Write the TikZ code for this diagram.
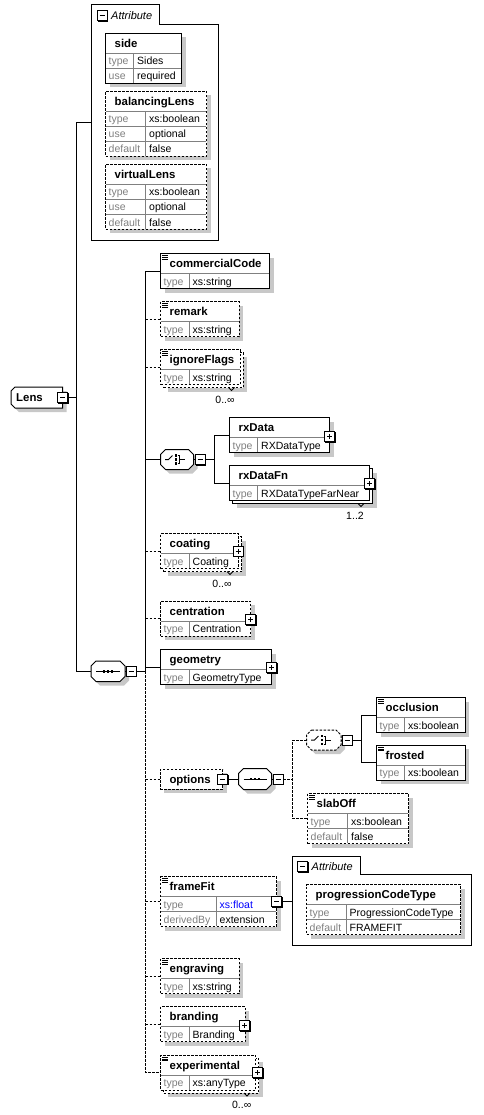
\documentclass[tikz,border=0pt]{standalone}
\usepackage{fontspec}
\setmainfont{Liberation Sans}
\usetikzlibrary{shadows}
\definecolor{shadowc}{HTML}{C8C8C8}
\definecolor{lblc}{HTML}{808080}
\definecolor{divc}{HTML}{808080}
\tikzset{
 shd/.style={general shadow={shadow xshift=4pt,shadow yshift=-4pt,fill=shadowc}},
 boxn/.style={draw=black,fill=white,line width=1pt,rectangle,anchor=north west,inner sep=0pt,outer sep=0pt},
 opt/.style={dash pattern=on 2.5pt off 1.5pt},
 req/.style={solid},
 ttl/.style={anchor=base west,font=\fontsize{11.4}{13}\selectfont\bfseries,inner sep=0pt},
 lbl/.style={anchor=base west,font=\fontsize{10.5}{12}\selectfont,text=lblc,inner sep=0pt},
 val/.style={anchor=base west,font=\fontsize{10.5}{12}\selectfont,inner sep=0pt},
 itl/.style={anchor=base west,font=\fontsize{11}{13}\selectfont\itshape,inner sep=0pt},
 conn/.style={line width=1pt},
 oconn/.style={line width=1pt,opt},
 div/.style={draw=divc,line width=1pt},
 pmb/.style={draw=black,fill=white,line width=1pt,rectangle,minimum size=10pt,inner sep=0pt,outer sep=0pt,anchor=north west},
 ghost/.style={inner sep=0pt,outer sep=0pt,anchor=north west},
}
\newcommand\ebox[6]{\node[boxn,shd,#6,minimum width={#4-#2},minimum height={#5-#3}] (#1) at (#2,#3) {};}
\newcommand\stbox[6]{%
 \node[boxn,shd,#6,minimum width={#4-#2},minimum height={#5-#3}] (#1-b) at ({#2+3},{#3+3}) {};
 \node[boxn,#6,minimum width={#4-#2},minimum height={#5-#3}] (#1) at (#2,#3) {};}
\newcommand\etitle[4]{\node[ttl] (#1) at ({#2+9},{#3+14}) {#4};}
\newcommand\erow[7]{%
 \draw[div] ({#2+0.5},#4) -- ({#3-0.5},#4) (#5,#4) -- (#5,{#4+14.5});
 \node[lbl] (#1-l) at ({#2+3},{#4+11.5}) {#6};
 \node[val] (#1-v) at ({#5+3.5},{#4+11.5}) {#7};}
\newcommand\docic[2]{\draw[line width=0.6pt] ({#1+1.5},{#2+2}) -- ++(6,0) ({#1+1.5},{#2+3.8}) -- ++(6,0) ({#1+1.5},{#2+5.6}) -- ++(6,0);}
\newcommand\minusb[3]{%
 \node[pmb] (#1) at (#2,#3) {};
 \draw[line width=1.2pt] ({#2+10.6},{#3+0.8}) -- ({#2+10.6},{#3+10.6}) -- ({#2+0.8},{#3+10.6});
 \draw[line width=1pt] ({#2+2.5},{#3+5}) -- ({#2+7.5},{#3+5});}
\newcommand\plusb[3]{\minusb{#1}{#2}{#3}\draw[line width=1pt] ({#2+5},{#3+2.5}) -- ({#2+5},{#3+7.5});}
\newcommand\octa[7]{%
 \fill[shadowc] ({#2+#7+4},{#3+4}) -- ({#4-#7+4},{#3+4}) -- ({#4+4},{#3+#7+4}) -- ({#4+4},{#5-#7+4}) -- ({#4-#7+4},{#5+4}) -- ({#2+#7+4},{#5+4}) -- ({#2+4},{#5-#7+4}) -- ({#2+4},{#3+#7+4}) -- cycle;
 \draw[line width=1pt,fill=white,#6] ({#2+#7},#3) -- ({#4-#7},#3) -- (#4,{#3+#7}) -- (#4,{#5-#7}) -- ({#4-#7},#5) -- ({#2+#7},#5) -- (#2,{#5-#7}) -- (#2,{#3+#7}) -- cycle;
 \node[ghost,minimum width={#4-#2},minimum height={#5-#3}] (#1) at (#2,#3) {};}
\newcommand\seqsym[3]{%
 \draw[line width=1pt] ({#1+5},#3) -- ({#2-5},#3);
 \foreach \d in {-4,0,4} \fill ({(#1+#2)/2+\d-1.3},{#3-1.3}) rectangle ++(2.6,2.6);}
\newcommand\chsym[2]{%
 \draw[line width=1pt] ({#1+4.5},#2) -- ({#1+8},#2) -- ({#1+12},{#2-4});
 \foreach \d in {-4,0,4} \fill ({#1+14},{#2+\d-1.2}) rectangle ++(2.4,2.4);
 \draw[line width=1pt] ({#1+17},{#2-4}) -- ({#1+19},{#2-4}) -- ({#1+19},{#2+4}) -- ({#1+17},{#2+4}) ({#1+19},#2) -- ({#1+24},#2);}
\newcommand\multv[5]{% name xv yb xt text
 \draw[line width=0.8pt] ({#2-3},#3) -- (#2,{#3+3}) -- ({#2+3},#3);
 \node[val,anchor=base] (#1) at (#4,{#3+15.5}) {#5};}
\begin{document}
\begin{tikzpicture}[x=1pt,y=-1pt]
\useasboundingbox (0,0) rectangle (483,1115);
\fill[white] (0,0) rectangle (483,1115);

% ---------- Attribute container 1
\draw[line width=1pt,fill=white] (91.5,240) -- (91.5,5) -- (159,5) -- (159,24.5) -- (218.5,24.5) -- (218.5,240) -- cycle;
\node[ghost,minimum width=127,minimum height=235] (attr1) at (91.5,5) {};
\minusb{attr1M}{97}{10.5}
\node[itl] (attr1t) at (111,19.5) {Attribute};

\ebox{side}{105.5}{33.5}{181.5}{83.5}{req}
\etitle{side-t}{105.5}{33.5}{side}
\erow{side1}{105.5}{181.5}{53.5}{133.5}{type}{Sides}
\erow{side2}{105.5}{181.5}{68.5}{133.5}{use}{required}

\ebox{bal}{105.5}{91.5}{206.5}{156.5}{opt}
\etitle{bal-t}{105.5}{91.5}{balancingLens}
\erow{bal1}{105.5}{206.5}{111.5}{145.5}{type}{xs:boolean}
\erow{bal2}{105.5}{206.5}{126.5}{145.5}{use}{optional}
\erow{bal3}{105.5}{206.5}{141.5}{145.5}{default}{false}

\ebox{vir}{105.5}{164.5}{206.5}{229.5}{opt}
\etitle{vir-t}{105.5}{164.5}{virtualLens}
\erow{vir1}{105.5}{206.5}{184.5}{145.5}{type}{xs:boolean}
\erow{vir2}{105.5}{206.5}{199.5}{145.5}{use}{optional}
\erow{vir3}{105.5}{206.5}{214.5}{145.5}{default}{false}

% ---------- Lens
\fill[shadowc] (19,391) -- (66.5,391) -- (66.5,412) -- (19,412) -- (15,408) -- (15,395) -- cycle;
\draw[line width=1pt,fill=white] (15,387) -- (62.5,387) -- (62.5,408) -- (15,408) -- (11,404) -- (11,391) -- cycle;
\node[ghost,minimum width=51.5,minimum height=21] (lens) at (11,387) {};
\node[ttl] (lens-t) at (16,401.5) {Lens};
\minusb{lensM}{57.5}{392.5}

% ---------- sequence 1
\octa{seq1}{91}{661}{125}{681.5}{solid}{5}
\seqsym{91}{125}{671.25}
\minusb{seq1M}{126}{666.25}

% ---------- children of sequence 1
\ebox{cc}{160.5}{253.5}{269.5}{288.5}{req}
\docic{160.5}{253.5}
\etitle{cc-t}{160.5}{253.5}{commercialCode}
\erow{cc1}{160.5}{269.5}{273.5}{189}{type}{xs:string}

\ebox{remark}{160.5}{301.5}{239}{336.5}{opt}
\docic{160.5}{301.5}
\etitle{remark-t}{160.5}{301.5}{remark}
\erow{remark1}{160.5}{239}{321.5}{189}{type}{xs:string}

\stbox{ign}{160.5}{349.5}{240}{384.5}{opt}
\docic{160.5}{349.5}
\etitle{ign-t}{160.5}{349.5}{ignoreFlags}
\erow{ign1}{160.5}{240}{369.5}{189}{type}{xs:string}
\multv{ign-m}{231.5}{387.5}{225}{0..∞}

\octa{ch1}{160.5}{449.5}{193.5}{469.5}{solid}{5}
\chsym{160.5}{459.5}
\minusb{ch1M}{195}{454.5}

\ebox{rxd}{229.5}{417.5}{329.5}{452.5}{req}
\etitle{rxd-t}{229.5}{417.5}{rxData}
\erow{rxd1}{229.5}{329.5}{437.5}{257.5}{type}{RXDataType}
\plusb{rxdP}{324.5}{431.5}

\stbox{rxdf}{229.5}{465.5}{369.5}{500.5}{req}
\etitle{rxdf-t}{229.5}{465.5}{rxDataFn}
\erow{rxdf1}{229.5}{369.5}{485.5}{257.5}{type}{RXDataTypeFarNear}
\plusb{rxdfP}{364.5}{478.5}
\multv{rxdf-m}{361}{503.5}{355}{1..2}

\stbox{coat}{160.5}{533.5}{238.5}{568.5}{opt}
\etitle{coat-t}{160.5}{533.5}{coating}
\erow{coat1}{160.5}{238.5}{553.5}{189}{type}{Coating}
\plusb{coatP}{233}{546}
\multv{coat-m}{230}{571.5}{222}{0..∞}

\ebox{cent}{160.5}{601}{250.5}{636}{opt}
\etitle{cent-t}{160.5}{601}{centration}
\erow{cent1}{160.5}{250.5}{621}{189}{type}{Centration}
\plusb{centP}{245.5}{614.5}

\ebox{geom}{160.5}{649.5}{271.5}{684.5}{req}
\etitle{geom-t}{160.5}{649.5}{geometry}
\erow{geom1}{160.5}{271.5}{669.5}{189}{type}{GeometryType}
\plusb{geomP}{266.5}{662.5}

% ---------- options
\ebox{opts}{160}{769}{222.5}{789}{opt}
\node[ttl] (opts-t) at (169.3,783) {options};
\minusb{optsM}{217.5}{774}

\octa{seq2}{238.5}{768.5}{271.5}{789.5}{solid}{5}
\seqsym{238.5}{271.5}{779}
\minusb{seq2M}{273}{774}

\octa{ch2}{306.5}{730}{341}{750}{opt}{5}
\chsym{306.5}{740}
\minusb{ch2M}{342}{735}

\ebox{occl}{376.5}{697.5}{465}{732.5}{req}
\docic{376.5}{697.5}
\etitle{occl-t}{376.5}{697.5}{occlusion}
\erow{occl1}{376.5}{465}{717.5}{404.5}{type}{xs:boolean}

\ebox{frost}{376.5}{745}{465}{780}{req}
\docic{376.5}{745}
\etitle{frost-t}{376.5}{745}{frosted}
\erow{frost1}{376.5}{465}{765}{404.5}{type}{xs:boolean}

\ebox{slab}{307.5}{793.5}{408.5}{843.5}{opt}
\docic{307.5}{793.5}
\etitle{slab-t}{307.5}{793.5}{slabOff}
\erow{slab1}{307.5}{408.5}{813.5}{347.5}{type}{xs:boolean}
\erow{slab2}{307.5}{408.5}{828.5}{347.5}{default}{false}

% ---------- frameFit
\ebox{ff}{160.5}{876.5}{276.5}{926.5}{opt}
\docic{160.5}{876.5}
\etitle{ff-t}{160.5}{876.5}{frameFit}
\erow{ff1}{160.5}{276.5}{896.5}{216}{type}{\textcolor{blue}{xs:float}}
\erow{ff2}{160.5}{276.5}{911.5}{216}{derivedBy}{extension}
\minusb{ffM}{271.5}{896.5}

\draw[line width=1pt,fill=white] (292.5,945) -- (292.5,856) -- (360,856) -- (360,874) -- (471.5,874) -- (471.5,945) -- cycle;
\node[ghost,minimum width=179,minimum height=89] (attr2) at (292.5,856) {};
\minusb{attr2M}{297.5}{861.5}
\node[itl] (attr2t) at (311.5,870.5) {Attribute};

\ebox{pct}{306.5}{884.5}{460.5}{934.5}{opt}
\etitle{pct-t}{306.5}{884.5}{progressionCodeType}
\erow{pct1}{306.5}{460.5}{904.5}{346}{type}{ProgressionCodeType}
\erow{pct2}{306.5}{460.5}{919.5}{346}{default}{FRAMEFIT}

% ---------- rest
\ebox{engr}{160.5}{958.5}{239}{993.5}{opt}
\docic{160.5}{958.5}
\etitle{engr-t}{160.5}{958.5}{engraving}
\erow{engr1}{160.5}{239}{978.5}{189}{type}{xs:string}

\ebox{brand}{160.5}{1006.5}{245}{1041.5}{opt}
\etitle{brand-t}{160.5}{1006.5}{branding}
\erow{brand1}{160.5}{245}{1026.5}{189}{type}{Branding}
\plusb{brandP}{239.5}{1020.5}

\stbox{exper}{160.5}{1055}{255.5}{1090}{opt}
\docic{160.5}{1055}
\etitle{exper-t}{160.5}{1055}{experimental}
\erow{exper1}{160.5}{255.5}{1075}{189}{type}{xs:anyType}
\plusb{experP}{252.5}{1067.5}
\multv{exper-m}{247}{1093}{241.7}{0..∞}

% ---------- connectors
\coordinate (T1) at (76.5,0);
\coordinate (T2) at (145.5,0);
\coordinate (J1) at (214.5,0);
\coordinate (J2) at (292.5,0);
\coordinate (J3) at (361.5,0);

\draw[conn] (attr1.west) -- (attr1.west -| T1) -- (seq1.west -| T1) -- (seq1.west);
\draw[conn] (lensM.east) -- (lensM.east -| T1);
\draw[conn] (seq1.east) -- (seq1M.west);
\draw[conn] (cc.west) -- (cc.west -| T2) -- (seq1M.east -| T2) -- (seq1M.east);
\draw[oconn] (seq1M.east -| T2) -- (exper.west -| T2) -- (exper.west);
\foreach \n in {remark,ign,coat,cent,opts,ff,engr,brand}
  \draw[oconn] (\n.west -| T2) -- (\n.west);
\draw[conn] (ch1.west -| T2) -- (ch1.west);
\draw[conn] (geom.west -| T2) -- (geom.west);

\draw[conn] (ch1.east) -- (ch1M.west);
\draw[conn] (ch1M.east) -- (ch1M.east -| J1);
\draw[conn] (rxd.west) -- (rxd.west -| J1) -- (rxdf.west -| J1) -- (rxdf.west);

\draw[conn] (optsM.east) -- (seq2.west);
\draw[conn] (seq2.east) -- (seq2M.west);
\draw[oconn] (seq2M.east) -- (seq2M.east -| J2);
\draw[oconn] (ch2.west) -- (ch2.west -| J2) -- (slab.west -| J2) -- (slab.west);
\draw[conn] (ch2.east) -- (ch2M.west);
\draw[conn] (ch2M.east) -- (ch2M.east -| J3);
\draw[conn] (occl.west) -- (occl.west -| J3) -- (frost.west -| J3) -- (frost.west);

\draw[conn] (ffM.east) -- (ffM.east -| attr2.west);
\end{tikzpicture}
\end{document}
